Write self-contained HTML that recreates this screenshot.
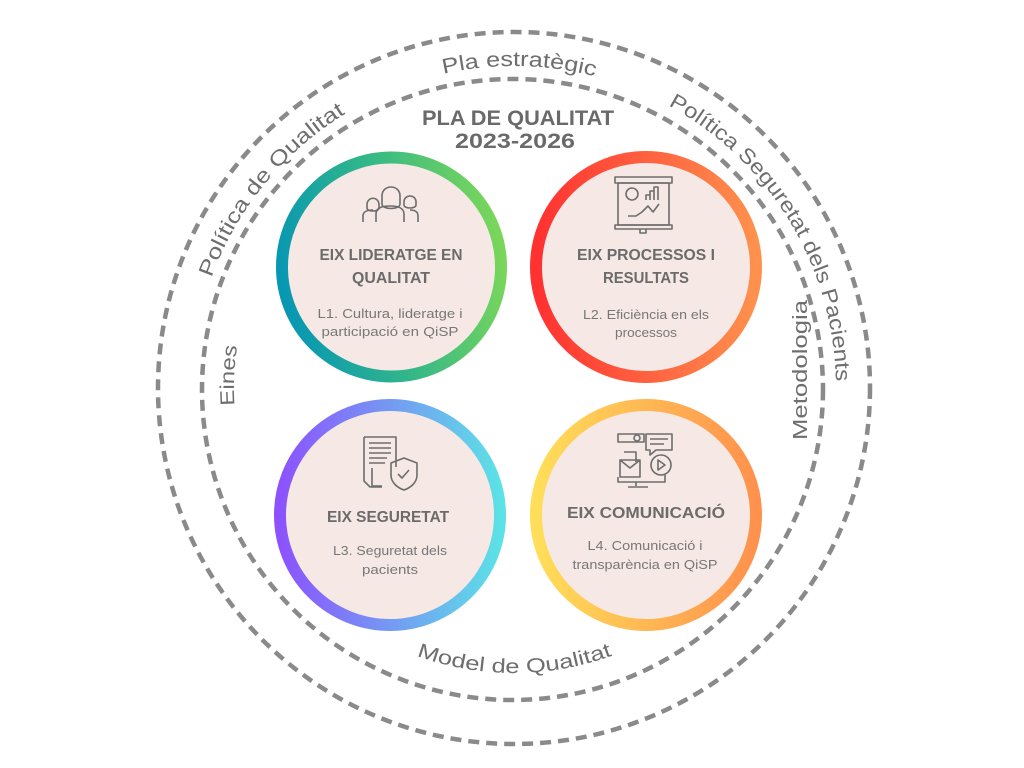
<!DOCTYPE html>
<html><head><meta charset="utf-8"><style>
html,body{margin:0;padding:0;background:#fff;width:1024px;height:768px;overflow:hidden}
svg{display:block}
</style></head><body>
<svg width="1024" height="768" viewBox="0 0 1024 768" xmlns="http://www.w3.org/2000/svg" font-family="Liberation Sans, sans-serif">
<defs>
<linearGradient id="g1" x1="0" y1="0.6" x2="1" y2="0.4"><stop offset="0" stop-color="#0797b3"/><stop offset="0.5" stop-color="#34b887"/><stop offset="1" stop-color="#7ad65a"/></linearGradient>
<linearGradient id="g2" x1="0" y1="0.5" x2="1" y2="0.5"><stop offset="0" stop-color="#ff3131"/><stop offset="1" stop-color="#ff914d"/></linearGradient>
<linearGradient id="g3" x1="0" y1="0.5" x2="1" y2="0.5"><stop offset="0" stop-color="#8c52ff"/><stop offset="1" stop-color="#5ce1e6"/></linearGradient>
<linearGradient id="g4" x1="0" y1="0.5" x2="1" y2="0.5"><stop offset="0" stop-color="#ffde59"/><stop offset="1" stop-color="#ff914d"/></linearGradient>
<path id="cw322" d="M514,710 A322,322 0 1 1 514,66 A322,322 0 1 1 514,710"/>
<path id="cw280" d="M514,668 A280,280 0 1 1 514,108 A280,280 0 1 1 514,668"/>
<path id="ccw285" d="M229,388 A285,285 0 0 0 799,388"/>
</defs>

<circle cx="514" cy="388" r="356" fill="none" stroke="#8a8a8a" stroke-width="4.5" stroke-dasharray="11 7"/>
<circle cx="512.5" cy="389.5" r="310.5" fill="none" stroke="#8a8a8a" stroke-width="4.5" stroke-dasharray="11 7"/>

<g fill="#6e6e6e" font-size="21">
<text><textPath href="#cw322" startOffset="940" textLength="153" lengthAdjust="spacingAndGlyphs">Pla estratègic</textPath></text>
<text><textPath href="#cw322" startOffset="618" textLength="216" lengthAdjust="spacingAndGlyphs">Política de Qualitat</textPath></text>
<text><textPath href="#cw322" startOffset="1172" textLength="338" lengthAdjust="spacingAndGlyphs">Política Seguretat dels Pacients</textPath></text>
<text font-size="20"><textPath href="#cw280" startOffset="422" textLength="60" lengthAdjust="spacingAndGlyphs">Eines</textPath></text>
<text font-size="20"><textPath href="#ccw285" startOffset="348" textLength="200" lengthAdjust="spacingAndGlyphs">Model de Qualitat</textPath></text>
<text font-size="20" transform="translate(807,370) rotate(-90)" text-anchor="middle" textLength="140" lengthAdjust="spacingAndGlyphs">Metodologia</text>
</g>
<g fill="#6a6a6a" font-size="21" font-weight="bold" text-anchor="middle">
<text x="518" y="125" textLength="192" lengthAdjust="spacingAndGlyphs">PLA DE QUALITAT</text>
<text x="515" y="148" textLength="120" lengthAdjust="spacingAndGlyphs">2023-2026</text>
</g>

<circle cx="391.5" cy="267" r="109.5" fill="#f6e8e5" stroke="url(#g1)" stroke-width="12"/>
<circle cx="646" cy="267" r="110" fill="#f6e8e5" stroke="url(#g2)" stroke-width="12"/>
<circle cx="390" cy="515" r="110" fill="#f6e8e5" stroke="url(#g3)" stroke-width="12"/>
<circle cx="646" cy="515" r="110" fill="#f6e8e5" stroke="url(#g4)" stroke-width="12"/>

<g fill="#6b6b6b" font-weight="bold" font-size="15.5">
<text x="391" y="260" text-anchor="middle" textLength="143" lengthAdjust="spacingAndGlyphs">EIX LIDERATGE EN</text>
<text x="391" y="283" text-anchor="middle" textLength="78" lengthAdjust="spacingAndGlyphs">QUALITAT</text>
<text x="646" y="260" text-anchor="middle" textLength="138" lengthAdjust="spacingAndGlyphs">EIX PROCESSOS I</text>
<text x="646" y="283" text-anchor="middle" textLength="86" lengthAdjust="spacingAndGlyphs">RESULTATS</text>
<text x="388" y="522" text-anchor="middle" textLength="122" lengthAdjust="spacingAndGlyphs">EIX SEGURETAT</text>
<text x="646" y="518" text-anchor="middle" textLength="158" lengthAdjust="spacingAndGlyphs">EIX COMUNICACIÓ</text>
</g>
<g fill="#777" font-size="12.5">
<text x="390" y="318" text-anchor="middle" textLength="145" lengthAdjust="spacingAndGlyphs">L1.  Cultura, lideratge i</text>
<text x="390" y="336" text-anchor="middle" textLength="137" lengthAdjust="spacingAndGlyphs">participació en QiSP</text>
<text x="646" y="319" text-anchor="middle" textLength="126" lengthAdjust="spacingAndGlyphs">L2. Eficiència en els</text>
<text x="646" y="337" text-anchor="middle" textLength="62" lengthAdjust="spacingAndGlyphs">processos</text>
<text x="390" y="555" text-anchor="middle" textLength="114" lengthAdjust="spacingAndGlyphs">L3. Seguretat dels</text>
<text x="390" y="574" text-anchor="middle" textLength="56" lengthAdjust="spacingAndGlyphs">pacients</text>
<text x="645" y="550" text-anchor="middle" textLength="115" lengthAdjust="spacingAndGlyphs">L4. Comunicació i</text>
<text x="645" y="569" text-anchor="middle" textLength="145" lengthAdjust="spacingAndGlyphs">transparència en QiSP</text>
</g>

<g fill="none" stroke="#6d6d6d" stroke-width="1.6" stroke-linejoin="round">
<path d="M382,196 c0,-12 18,-12 18,0 v8 c0,6 -18,6 -18,0 z"/>
<path d="M376,222 v-8 c0,-6 6,-8 14,-8 c8,0 14,2 14,8 v8"/>
<path d="M367,205 c0,-9 12,-9 12,0 v3 c0,4 -12,4 -12,0 z"/>
<path d="M363,222 v-6 c0,-4 4,-6 10,-6"/>
<path d="M404,202 c0,-8 12,-8 12,0 v3 c0,4 -12,4 -12,0 z"/>
<path d="M410,210 c5,0 8,2 8,6 v6"/>
<rect x="615" y="177" width="57" height="6"/>
<rect x="618" y="183" width="51" height="42"/>
<path d="M615,225 h57 v4 h-57 z M640,229 v4 h6 v-4"/>
<circle cx="632" cy="194" r="6"/>
<path d="M646,200 v-5 h4 v5 M650,200 v-9 h4 v9 M654,200 v-13 h4 v13"/>
<path d="M628,216 h8 l6,-4 l6,-6 l5,6 l6,-8"/>
<path d="M364,437 h32 v30 M364,437 v44 l6,6 h12"/>
<path d="M369,443 h22 M369,448 h22 M369,453 h22 M369,458 h18 M369,463 h16 M372,468 v18 h10"/>
<path d="M404,458 l13,5 v12 c0,8 -7,13 -13,15 c-6,-2 -13,-7 -13,-15 v-12 z"/>
<path d="M398,474 l4,4 l7,-8"/>
<rect x="618" y="434" width="26" height="8"/>
<circle cx="637" cy="438" r="3"/>
<path d="M646,434 h26 v16 h-16 l-6,5 v-5 h-4 z M650,439 h18 M650,444 h14"/>
<path d="M620,460 h20 v17 h-20 z M620,460 l10,8 l10,-8 M624,452 h12 v10"/>
<circle cx="661" cy="465" r="10"/>
<path d="M658,460 v10 l7,-5 z"/>
<path d="M618,477 v5 h47 v-7 M636,482 v4 M628,487 h20"/>
</g>
</svg>
</body></html>
